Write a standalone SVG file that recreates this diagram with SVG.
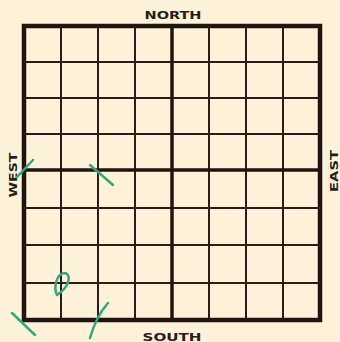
<svg xmlns="http://www.w3.org/2000/svg" width="340" height="342" viewBox="0 0 340 342">
<style>
.thin{stroke:#2a1c16;stroke-width:2;fill:none}
.mid{stroke:#22150f;stroke-width:3.5;fill:none}
.outer{stroke:#22150f;stroke-width:4.5;fill:none}
.lbl{font-family:"DejaVu Sans",sans-serif;font-weight:bold;font-size:11px;fill:#2a1c16}
.mark{stroke:#3aa677;stroke-width:2.5;fill:none;stroke-linecap:round}
</style>
<rect width="340" height="342" fill="#fcf3da"/>
<g id="grid">
<path class="thin" d="M61,26V320M98,26V320M135,26V320M209,26V320M246,26V320M283,26V320"/>
<path class="thin" d="M24,62H320M24,98H320M24,134H320M24,208H320M24,245H320M24,283H320"/>
<path class="mid" d="M172,26V320M24,170H320"/>
<rect class="outer" x="24" y="26" width="296" height="294"/>
</g>
<g id="labels">
<text class="lbl" x="173" y="18.5" text-anchor="middle" textLength="57" lengthAdjust="spacingAndGlyphs">NORTH</text>
<text class="lbl" x="172" y="340.5" text-anchor="middle" textLength="59" lengthAdjust="spacingAndGlyphs">SOUTH</text>
<text class="lbl" transform="translate(17,175) rotate(-90)" text-anchor="middle" textLength="45" lengthAdjust="spacingAndGlyphs">WEST</text>
<text class="lbl" transform="translate(337.5,171) rotate(-90)" text-anchor="middle" textLength="42" lengthAdjust="spacingAndGlyphs">EAST</text>
</g>
<g id="marks">
<path class="mark" d="M17,177L33,160"/>
<path class="mark" d="M90,165L113,185"/>
<path class="mark" d="M57,295C53,287 57,274 64,273C71,273 70,284 62,291C60,293 58,294 57,295"/>
<path class="mark" d="M12,313L35,335"/>
<path class="mark" d="M108,303C100,312 94,324 90,338"/>
</g>
</svg>
